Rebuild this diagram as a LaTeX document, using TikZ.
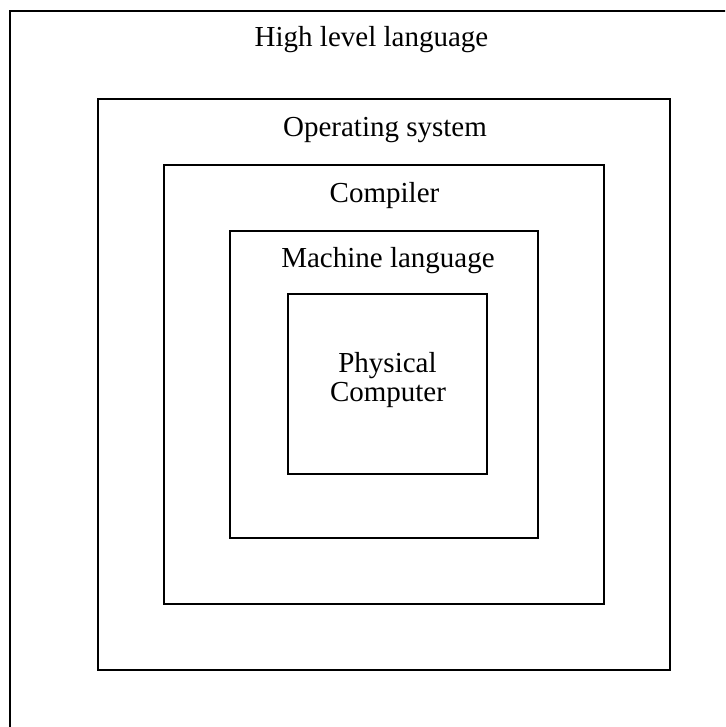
\documentclass[tikz,border=0pt]{standalone}
\usepackage{fontspec}
\setmainfont{Liberation Serif}
\begin{document}
\begin{tikzpicture}[x=1pt,y=1pt,
  layerbox/.style={draw=black, line width=1.3pt, rectangle, inner sep=0pt, outer sep=0pt},
  layerlabel/.style={anchor=base, inner sep=0pt, font=\fontsize{29}{29}\selectfont}]
\useasboundingbox (0,0) rectangle (725,727);
\clip (0,0) rectangle (725,727);
% outer box (extends beyond the visible area on the right and bottom)
\node[layerbox, minimum width=770, minimum height=770] (hll) at (395,331) {};
\node[layerbox, minimum width=572, minimum height=571] (os) at (384,342.5) {};
\node[layerbox, minimum width=440, minimum height=439] (comp) at (384,342.5) {};
\node[layerbox, minimum width=308, minimum height=307] (mach) at (384,342.5) {};
\node[layerbox, minimum width=199, minimum height=180] (phys) at (387.5,343) {};
% labels
\node[layerlabel] (hlltext) at (371.5,680) {High level language};
\node[layerlabel] (ostext) at (385,590) {Operating system};
\node[layerlabel] (comptext) at (384.5,524) {Compiler};
\node[layerlabel] (machtext) at (388,459) {Machine language};
\node[layerlabel] (phystext1) at (387.5,354) {Physical};
\node[layerlabel] (phystext2) at (388,325) {Computer};
\end{tikzpicture}
\end{document}
